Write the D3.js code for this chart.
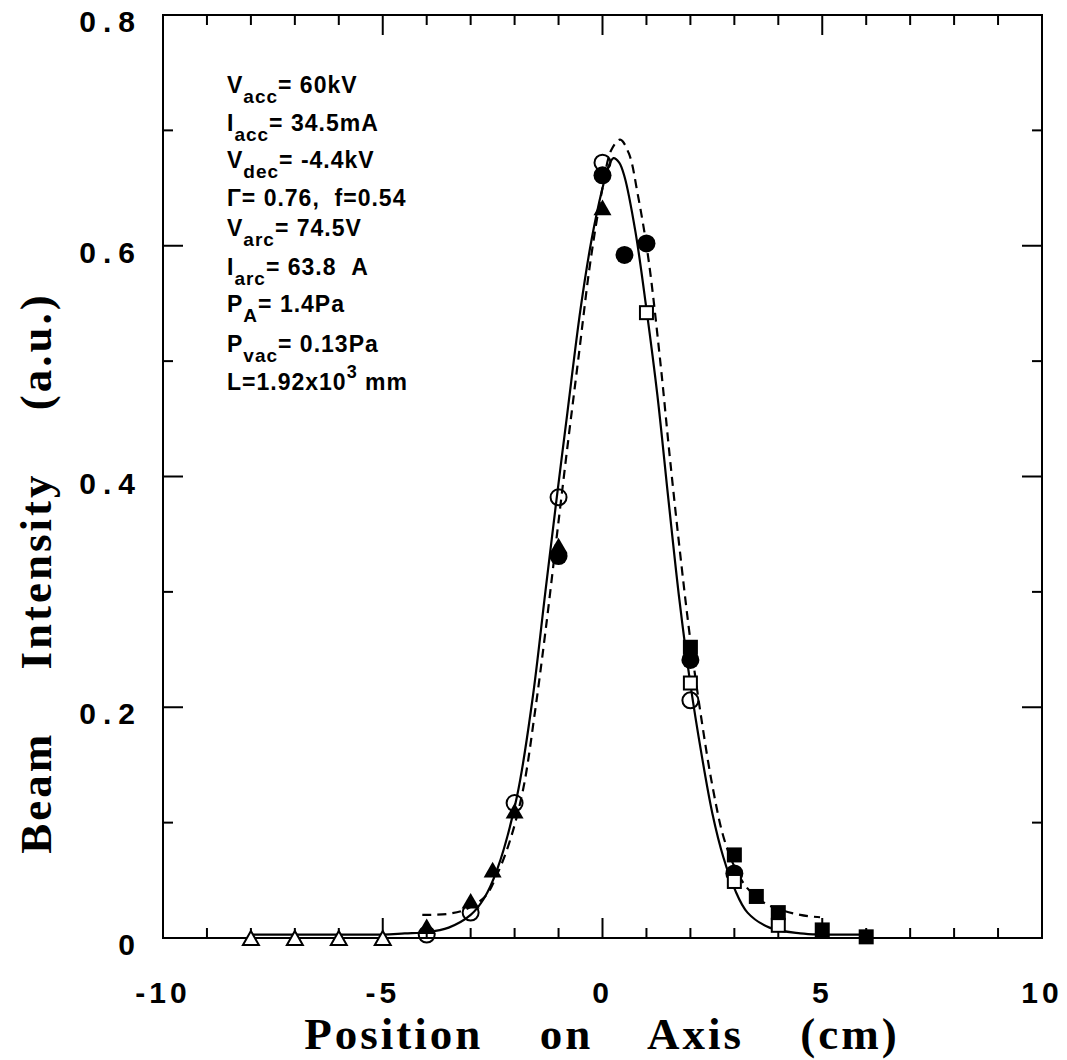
<!DOCTYPE html>
<html>
<head>
<meta charset="utf-8">
<script src="https://cdn.jsdelivr.net/npm/d3@7"></script>
<style>
  html, body { margin: 0; padding: 0; background: #fff; }
  svg { display: block; }
</style>
</head>
<body>
<svg id="chart" width="1067" height="1060"></svg>
<script>
// ---------- data ----------
const xTicksMajor = [-10, -5, 0, 5, 10];
const xTickLabels = ["-10", "-5", "0", "5", "10"];
const yTicksMajor = [0, 0.2, 0.4, 0.6, 0.8];
const yTickLabels = ["0", "0.2", "0.4", "0.6", "0.8"];

// measured series (markers)
const openCircleX = [-4, -3, -2, -1, 0, 2];
const openCircleY = [0.003, 0.022, 0.117, 0.382, 0.672, 0.206];
const filledCircleX = [-1, 0, 0.5, 1, 2, 3];
const filledCircleY = [0.331, 0.661, 0.592, 0.602, 0.241, 0.056];
const filledTriangleX = [-4, -3, -2.5, -2, -1, 0];
const filledTriangleY = [0.008, 0.030, 0.057, 0.108, 0.338, 0.631];
const openTriangleX = [-8, -7, -6, -5];
const openTriangleY = [-0.002, -0.002, -0.002, -0.002];
const openSquareX = [1, 2, 3, 4];
const openSquareY = [0.542, 0.221, 0.049, 0.011];
const filledSquareX = [2, 3, 3.5, 4, 5, 6];
const filledSquareY = [0.252, 0.072, 0.036, 0.022, 0.007, 0.001];

// fitted curves
const solidX = [-8, -6, -5, -4.5, -4, -3.5, -3, -2.7, -2.4, -1.95, -1.6, -1.3, -1.04, -0.8, -0.5, -0.25, 0.0, 0.13, 0.25, 0.38, 0.5, 0.75, 1.0, 1.25, 1.5, 1.75, 2.0, 2.25, 2.5, 2.75, 3.0, 3.3, 3.8, 4.5, 5, 6];
const solidY = [0.003, 0.003, 0.003, 0.004, 0.005, 0.009, 0.020, 0.034, 0.059, 0.122, 0.205, 0.300, 0.382, 0.455, 0.545, 0.605, 0.650, 0.668, 0.676, 0.672, 0.660, 0.612, 0.545, 0.470, 0.380, 0.293, 0.220, 0.160, 0.108, 0.070, 0.043, 0.022, 0.009, 0.004, 0.003, 0.003];
const dashedX = [-4.1, -3.5, -3.1, -2.67, -2.4, -2.1, -1.8, -1.54, -1.3, -1.05, -0.8, -0.54, -0.28, 0.0, 0.2, 0.4, 0.6, 0.8, 1.04, 1.3, 1.55, 1.8, 2.0, 2.25, 2.5, 2.75, 3.0, 3.3, 3.75, 4.5, 4.95];
const dashedY = [0.020, 0.021, 0.025, 0.036, 0.055, 0.085, 0.130, 0.195, 0.265, 0.345, 0.425, 0.505, 0.585, 0.650, 0.683, 0.692, 0.680, 0.645, 0.590, 0.505, 0.410, 0.322, 0.258, 0.190, 0.132, 0.088, 0.062, 0.043, 0.029, 0.020, 0.018];

// annotation lines: [main, subscript, rest, superscript, tail]
const annotations = [
  ["V", "acc", "= 60kV"],
  ["I", "acc", "= 34.5mA"],
  ["V", "dec", "= -4.4kV"],
  ["\u0393= 0.76,\u00A0\u00A0f=0.54", "", ""],
  ["V", "arc", "= 74.5V"],
  ["I", "arc", "= 63.8\u00A0\u00A0A"],
  ["P", "A", "= 1.4Pa"],
  ["P", "vac", "= 0.13Pa"],
  ["L=1.92x10", "", "", "3", " mm"]
];

// ---------- layout ----------
const svg = d3.select("#chart");
const L = 163, R = 1042, T = 15, B = 938;
const x = d3.scaleLinear().domain([-10, 10]).range([L, R]);
const y = d3.scaleLinear().domain([0, 0.8]).range([B, T]);

const sansBold = "'Liberation Sans', Arial, sans-serif";
const serifBold = "'Liberation Serif', 'Times New Roman', serif";

// frame
svg.append("rect").attr("x", L).attr("y", T).attr("width", R - L).attr("height", B - T)
  .attr("fill", "none").attr("stroke", "#000").attr("stroke-width", 2);

// ticks (inward on all four sides)
const xMinor = d3.range(-10, 10.001, 1);
const yMinor = d3.range(0, 0.8001, 0.1);
const tickG = svg.append("g").attr("stroke", "#000").attr("stroke-width", 2);
const isMajorX = v => Math.abs(v / 5 - Math.round(v / 5)) < 1e-6;
const isMajorY = v => Math.abs(v / 0.2 - Math.round(v / 0.2)) < 1e-6;
xMinor.forEach(v => {
  const len = isMajorX(v) ? 20 : 10;
  tickG.append("line").attr("x1", x(v)).attr("x2", x(v)).attr("y1", B).attr("y2", B - len);
  tickG.append("line").attr("x1", x(v)).attr("x2", x(v)).attr("y1", T).attr("y2", T + len);
});
yMinor.forEach(v => {
  const len = isMajorY(v) ? 20 : 10;
  tickG.append("line").attr("x1", L).attr("x2", L + len).attr("y1", y(v)).attr("y2", y(v));
  tickG.append("line").attr("x1", R).attr("x2", R - len).attr("y1", y(v)).attr("y2", y(v));
});

// tick labels
svg.append("g").selectAll("text").data(xTicksMajor).join("text")
  .attr("x", d => x(d)).attr("y", 1003)
  .attr("text-anchor", "middle")
  .attr("font-family", sansBold).attr("font-weight", "bold").attr("font-size", 30)
  .attr("letter-spacing", 4)
  .text((d, i) => xTickLabels[i]);

svg.append("g").selectAll("text").data(yTicksMajor).join("text")
  .attr("x", 142).attr("y", d => y(d) + 17)
  .attr("text-anchor", "end")
  .attr("font-family", sansBold).attr("font-weight", "bold").attr("font-size", 30)
  .attr("letter-spacing", 7)
  .text((d, i) => yTickLabels[i]);

// axis titles
svg.append("text").attr("x", 602).attr("y", 1049).attr("text-anchor", "middle")
  .attr("font-family", serifBold).attr("font-weight", "bold").attr("font-size", 45)
  .attr("word-spacing", 42).attr("letter-spacing", 3)
  .text("Position on Axis (cm)");

svg.append("text").attr("transform", "translate(51,573) rotate(-90)").attr("text-anchor", "middle")
  .attr("font-family", serifBold).attr("font-weight", "bold").attr("font-size", 45)
  .attr("word-spacing", 48).attr("letter-spacing", 3)
  .text("Beam Intensity (a.u.)");

// curves
const line = d3.line().x(d => x(d[0])).y(d => y(d[1])).curve(d3.curveCatmullRom.alpha(0.5));
svg.append("path").datum(solidX.map((v, i) => [v, solidY[i]]))
  .attr("d", line).attr("fill", "none").attr("stroke", "#000").attr("stroke-width", 2.2);
svg.append("path").datum(dashedX.map((v, i) => [v, dashedY[i]]))
  .attr("d", line).attr("fill", "none").attr("stroke", "#000").attr("stroke-width", 2.2)
  .attr("stroke-dasharray", "9,6");

// markers
const mk = svg.append("g");
function pts(xs, ys) { return xs.map((v, i) => [x(v), y(ys[i])]); }
pts(openCircleX, openCircleY).forEach(p =>
  mk.append("circle").attr("cx", p[0]).attr("cy", p[1]).attr("r", 8)
    .attr("fill", "none").attr("stroke", "#000").attr("stroke-width", 2));
pts(filledCircleX, filledCircleY).forEach(p =>
  mk.append("circle").attr("cx", p[0]).attr("cy", p[1]).attr("r", 9).attr("fill", "#000"));
const tri = d3.symbol().type(d3.symbolTriangle);
pts(filledTriangleX, filledTriangleY).forEach(p =>
  mk.append("path").attr("d", tri.size(140)()).attr("transform", `translate(${p[0]},${p[1]})`)
    .attr("fill", "#000"));
pts(openTriangleX, openTriangleY).forEach(p =>
  mk.append("path").attr("d", tri.size(110)()).attr("transform", `translate(${p[0]},${p[1]})`)
    .attr("fill", "#fff").attr("stroke", "#000").attr("stroke-width", 2));
pts(openSquareX, openSquareY).forEach(p =>
  mk.append("rect").attr("x", p[0] - 6.5).attr("y", p[1] - 6.5).attr("width", 13).attr("height", 13)
    .attr("fill", "#fff").attr("stroke", "#000").attr("stroke-width", 2));
pts(filledSquareX, filledSquareY).forEach(p =>
  mk.append("rect").attr("x", p[0] - 7.5).attr("y", p[1] - 7.5).attr("width", 15).attr("height", 15)
    .attr("fill", "#000"));

// annotation block
const baselines = [93, 131, 168, 206, 236, 275, 312, 352, 390];
const ann = svg.append("g").attr("font-family", sansBold).attr("font-weight", "bold");
annotations.forEach((a, i) => {
  const t = ann.append("text").attr("x", 227).attr("y", baselines[i]).attr("font-size", 23)
    .attr("letter-spacing", 1);
  t.append("tspan").text(a[0]);
  if (a[1]) {
    t.append("tspan").attr("dy", 10).attr("font-size", 19).text(a[1]);
    t.append("tspan").attr("dy", -10).text(a[2]);
  }
  if (a[3]) {
    t.append("tspan").attr("dy", -12).attr("font-size", 18).text(a[3]);
    t.append("tspan").attr("dy", 12).text(a[4]);
  }
});
</script>
</body>
</html>
